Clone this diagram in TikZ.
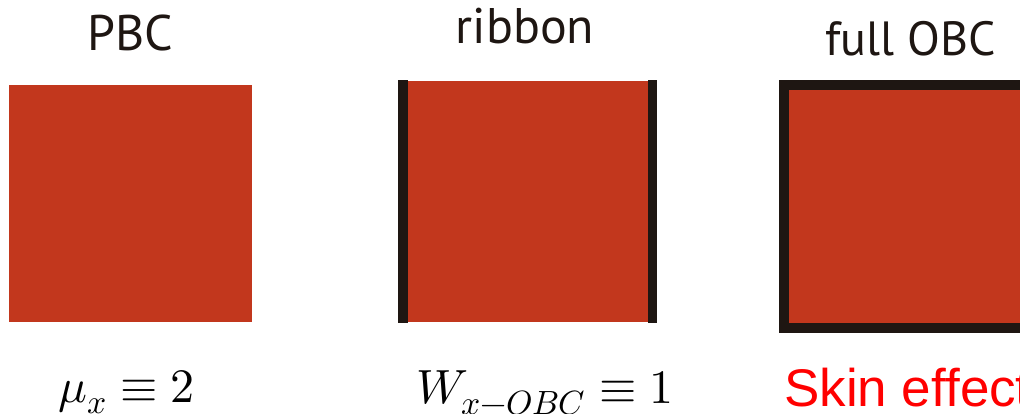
\documentclass[tikz,border=0pt]{standalone}
\usepackage{fontspec}
\usepackage{unicode-math}
\setmainfont{PT Sans}
\setmathfont{Latin Modern Math}
\newfontfamily\arialfont{Liberation Sans}
\definecolor{boxred}{RGB}{194,55,29}
\definecolor{barblack}{RGB}{30,22,18}
\definecolor{skinred}{RGB}{255,0,0}
\begin{document}
\begin{tikzpicture}[x=1pt,y=-1pt,
  redbox/.style={fill=boxred, draw=none, inner sep=0pt, outer sep=0pt},
  edgebar/.style={draw=barblack, line width=10pt},
  toplabel/.style={anchor=base, inner sep=0pt, text=barblack, font=\fontsize{50}{50}\selectfont},
  mathlabel/.style={anchor=base west, inner sep=0pt, font=\fontsize{48}{48}\selectfont},
  skinlabel/.style={anchor=base west, inner sep=0pt, text=skinred, font=\arialfont\fontsize{53}{53}\selectfont}]
\clip (0,0) rectangle (1020,413);
\fill[white] (0,0) rectangle (1020,413);
% PBC
\node[redbox, minimum width=243pt, minimum height=237pt] (pbc) at (130.5,203.5) {};
% ribbon
\node[redbox, minimum width=249.5pt, minimum height=241pt] (rib) at (527.75,201.5) {};
\coordinate (ribLt) at ([yshift=1pt]rib.north west);
\coordinate (ribLb) at ([yshift=-1pt]rib.south west);
\coordinate (ribRt) at ([yshift=1pt]rib.north east);
\coordinate (ribRb) at ([yshift=-1pt]rib.south east);
\draw[edgebar] (ribLt) -- (ribLb);
\draw[edgebar, line width=9pt] (ribRt) -- (ribRb);
% full OBC
\node[redbox, draw=barblack, line width=10pt, minimum width=256pt, minimum height=243pt] (obc) at (912,206.5) {};
% labels
\node[toplabel] (lpbc) at (130,50) {PBC};
\node[toplabel] (lrib) at (525,43) {ribbon};
\node[toplabel, font=\fontsize{48}{48}\selectfont] (lobc) at (910.5,55) {full OBC};
\node[mathlabel] (mu) at (58,402) {$\mu_x \equiv 2$};
\node[mathlabel] (w) at (416,403) {$W_{x-OBC} \equiv 1$};
\node[skinlabel] (skin) at (784,406) {Skin effect};
\end{tikzpicture}
\end{document}
